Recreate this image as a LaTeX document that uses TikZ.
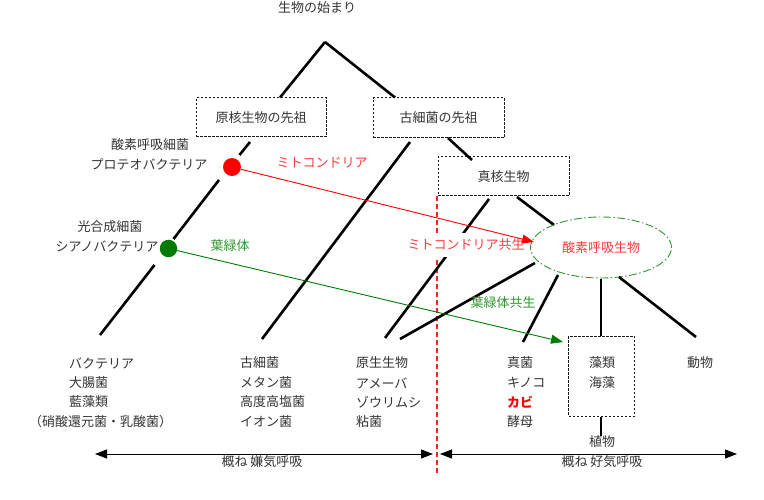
\documentclass[tikz,border=0pt]{standalone}
\usepackage{fontspec}
\setmainfont{Noto Sans CJK JP}
\usetikzlibrary{arrows.meta,shapes.geometric}
\definecolor{txt}{HTML}{333333}
\definecolor{lred}{HTML}{FF3B3B}
\definecolor{divred}{HTML}{FF2020}
\definecolor{dgreen}{HTML}{007A00}
\definecolor{lgreen}{HTML}{2E952E}
\begin{document}
\begin{tikzpicture}[x=1pt,y=-1pt,
  every node/.style={font=\fontsize{13}{16}\selectfont, text=txt, inner sep=0pt},
  tree/.style={line width=2.6pt, black},
  dbox/.style={draw=black!90, dash pattern=on 2.5pt off 1.5pt, line width=1pt},
  lbl/.style={anchor=west},
  tip/.style={-{Triangle[length=12pt,width=9pt]}},
  dtip/.style={{Triangle[length=12pt,width=9pt]}-{Triangle[length=12pt,width=9pt]}, line width=0.9pt, black}
]
\useasboundingbox (0,0) rectangle (764,500);

% ---- boxes
\node (title) at (317,8) {生物の始まり};
\coordinate (root) at (325,42);
\node[dbox, minimum width=130pt, minimum height=39pt] (pro) at (261,117.5) {原核生物の先祖};
\node[dbox, minimum width=131pt, minimum height=40pt] (arc) at (438.5,118) {古細菌の先祖};
\node[dbox, minimum width=131pt, minimum height=39pt] (euk) at (503.5,176.5) {真核生物};
\node[dbox, minimum width=66pt, minimum height=80pt] (alg) at (601.5,376) {};
\node (alg1) at (602,363) {藻類};
\node (alg2) at (602,383) {海藻};
\node (plant) at (602,442) {植物};
\node (animal) at (700,363) {動物};

% ---- leaf tops
\coordinate (leafA) at (100,335);
\coordinate (leafB) at (262,339);
\coordinate (leafC1) at (385,338);
\coordinate (leafC2) at (400,339);
\coordinate (leafD) at (523,342);
\coordinate (leafE) at (696,337);

% ---- red divider
\coordinate (divtop) at (437,196);
\coordinate (divbot) at (437,473);
\draw[color=divred, line width=1.2pt, dash pattern=on 5pt off 3pt] (divtop) -- (divbot);

% ---- tree lines
\draw[tree] (root) -- ([xshift=19pt]pro.north);
\draw[tree] (root) -- ([xshift=-43.5pt]arc.north);

\coordinate (pa1) at (250,142);
\coordinate (pa2) at (239.5,155);
\coordinate (pa3) at (219,180);
\coordinate (pa4) at (173.5,239);
\coordinate (pa5) at (154.5,265);
\draw[tree] (pa1) -- (pa2);
\draw[tree] (pa3) -- (pa4);
\draw[tree] (pa5) -- (leafA);

\draw[tree] (410,142) coordinate (ab1) -- (leafB);
\draw[tree] (448,138) coordinate (ae1) -- (472,160) coordinate (ae2);

\coordinate (e1) at (489,199);
\draw[tree] (e1) -- (leafC1);
\coordinate (e2) at (517,197);
\coordinate (o1) at (554,225);
\draw[tree] (e2) -- (o1);

\node[ellipse, draw=lgreen, line width=0.9pt, dash pattern=on 8pt off 2.5pt on 1.5pt off 2.5pt,
      minimum width=141pt, minimum height=61pt, text=lred] (aer) at (601,247.5) {酸素呼吸生物};

\coordinate (o2) at (535,263);
\coordinate (o3) at (558,275);
\coordinate (o4) at (619,277);
\coordinate (o5) at (601,279);
\draw[tree] (o2) -- (leafC2);
\draw[tree] (o3) -- (leafD);
\draw[tree] (o5) -- (alg.north -| o5);
\draw[tree] (o4) -- (leafE);
\draw[tree] (alg.south -| o5) -- (plant.north -| o5);

% ---- labels
\node[fill=white, inner xsep=0pt, inner ysep=6pt, text=lred] (mitosym) at (466,245) {ミトコンドリア共生};
\node[text=lred] (mitolab) at (322,163) {ミトコンドリア};
\node[text=lgreen] (chlolab) at (230,246) {葉緑体};
\node[text=lgreen] (chlosym) at (503,303) {葉緑体共生};
\node (o2b) at (150,145) {酸素呼吸細菌};
\node (pbac) at (149,164) {プロテオバクテリア};
\node (phot) at (110,227) {光合成細菌};
\node (cyan) at (107,246) {シアノバクテリア};

% ---- circles and arrows
\node[circle, fill=red, minimum size=18pt] (mito) at (232,167) {};
\node[circle, fill=dgreen, minimum size=17.5pt] (chlo) at (168.5,248.5) {};
\coordinate (mitoend) at (534,242);
\coordinate (chloend) at (563,342);
\draw[red, line width=0.9pt, tip] (mito) -- (mitoend);
\draw[dgreen, line width=0.9pt, tip] (chlo) -- (chloend);

% ---- leaf texts
\node[lbl] (a1) at (69,363) {バクテリア};
\node[lbl] (a2) at (69,383) {大腸菌};
\node[lbl] (a3) at (69,402) {藍藻類};
\node[lbl] (a4) at (29,422) {（硝酸還元菌・乳酸菌）};
\node[lbl] (b1) at (240,363) {古細菌};
\node[lbl] (b2) at (240,383) {メタン菌};
\node[lbl] (b3) at (240,402) {高度高塩菌};
\node[lbl] (b4) at (240,422) {イオン菌};
\node[lbl] (c1) at (356,363) {原生生物};
\node[lbl] (c2) at (356,383) {アメーバ};
\node[lbl] (c3) at (356,402) {ゾウリムシ};
\node[lbl] (c4) at (356,422) {粘菌};
\node[lbl] (d1) at (507,363) {真菌};
\node[lbl] (d2) at (507,383) {キノコ};
\node[lbl, text=red, font=\fontsize{13}{16}\selectfont\bfseries] (d3) at (507,402) {カビ};
\node[lbl] (d4) at (507,422) {酵母};

% ---- bottom arrows
\coordinate (anL) at (95,454);
\coordinate (anR) at (433,454);
\coordinate (aeL) at (440,454);
\coordinate (aeR) at (737,454);
\draw[dtip] (anL) -- (anR);
\draw[dtip] (aeL) -- (aeR);
\node (anlab) at (262,461.5) {概ね 嫌気呼吸};
\node (aelab) at (602,461.5) {概ね 好気呼吸};
\end{tikzpicture}
\end{document}
